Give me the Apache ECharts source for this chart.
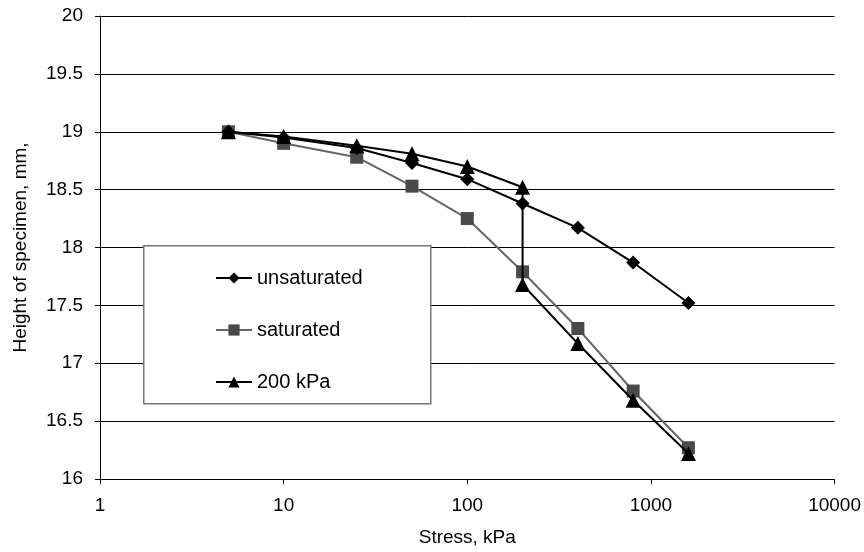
<!DOCTYPE html>
<html><head><meta charset="utf-8">
<script src="https://cdn.jsdelivr.net/npm/echarts@6/dist/echarts.min.js"></script>
<style>html,body{margin:0;padding:0;background:#fff}#c{width:864px;height:552px}</style>
</head><body><div id="c"></div>
<script>
const stress = [5, 10, 25, 50, 100, 200, 400, 800, 1600];
const unsaturated = [19.0, 18.95, 18.86, 18.73, 18.59, 18.38, 18.17, 17.87, 17.52];
const saturated = [19.0, 18.90, 18.78, 18.53, 18.25, 17.79, 17.30, 16.76, 16.27];
const stress200 = [5, 10, 25, 50, 100, 200, 200, 400, 800, 1600];
const kpa200 = [19.0, 18.96, 18.88, 18.81, 18.70, 18.52, 17.68, 17.17, 16.68, 16.22];
const xTicks = [1, 10, 100, 1000, 10000];
const yMin = 16, yMax = 20, yStep = 0.5;

const pairs = (xs, ys) => xs.map((x, i) => [x, ys[i]]);
const font = 'Liberation Sans, Arial, sans-serif';
const chart = echarts.init(document.getElementById('c'), null, {renderer: 'canvas'});
chart.setOption({
  animation: false,
  backgroundColor: '#fff',
  textStyle: {fontFamily: font},
  grid: {left: 100, right: 28, top: 16, bottom: 73, containLabel: false},
  graphic: [{
    type: 'rect', z: 3, left: 143, top: 245,
    shape: {width: 287, height: 158},
    style: {fill: '#fff', stroke: '#777', lineWidth: 1.5}
  }],
  legend: {
    z: 10, orient: 'vertical', left: 210, top: 263,
    itemWidth: 36, itemHeight: 14, itemGap: 32,
    textStyle: {fontSize: 20, color: '#000', fontFamily: font},
    data: ['unsaturated', 'saturated', '200 kPa']
  },
  xAxis: {
    type: 'log', logBase: 10, min: xTicks[0], max: xTicks[xTicks.length - 1],
    name: 'Stress, kPa', nameLocation: 'middle', nameGap: 49,
    nameTextStyle: {fontSize: 19, color: '#000', fontFamily: font},
    axisLine: {lineStyle: {color: '#000', width: 1}},
    axisTick: {show: true, inside: false, length: 5, lineStyle: {color: '#000'}},
    axisLabel: {fontSize: 19, color: '#000', margin: 17, fontFamily: font,
      formatter: v => String(v)},
    splitLine: {show: false}, minorTick: {show: false}
  },
  yAxis: {
    type: 'value', min: yMin, max: yMax, interval: yStep,
    name: 'Height of specimen, mm,', nameLocation: 'middle', nameGap: 70, nameRotate: 90,
    nameTextStyle: {fontSize: 19, color: '#000', fontFamily: font},
    axisLine: {show: true, lineStyle: {color: '#000', width: 1}},
    axisTick: {show: true, inside: false, length: 5, lineStyle: {color: '#000'}},
    axisLabel: {fontSize: 19, color: '#000', margin: 17, fontFamily: font},
    splitLine: {show: true, lineStyle: {color: '#000', width: 1}}
  },
  series: [
    {
      name: 'unsaturated', type: 'line', data: pairs(stress, unsaturated),
      symbol: 'diamond', symbolSize: 14, z: 4,
      lineStyle: {color: '#000', width: 2}, itemStyle: {color: '#000'}
    },
    {
      name: 'saturated', type: 'line', data: pairs(stress, saturated),
      symbol: 'rect', symbolSize: 13, z: 3,
      lineStyle: {color: '#666', width: 2}, itemStyle: {color: '#4a4a4a'}
    },
    {
      name: '200 kPa', type: 'line', data: pairs(stress200, kpa200),
      symbol: 'triangle', symbolSize: 15, z: 5,
      lineStyle: {color: '#000', width: 2}, itemStyle: {color: '#000'}
    }
  ]
});
</script></body></html>
